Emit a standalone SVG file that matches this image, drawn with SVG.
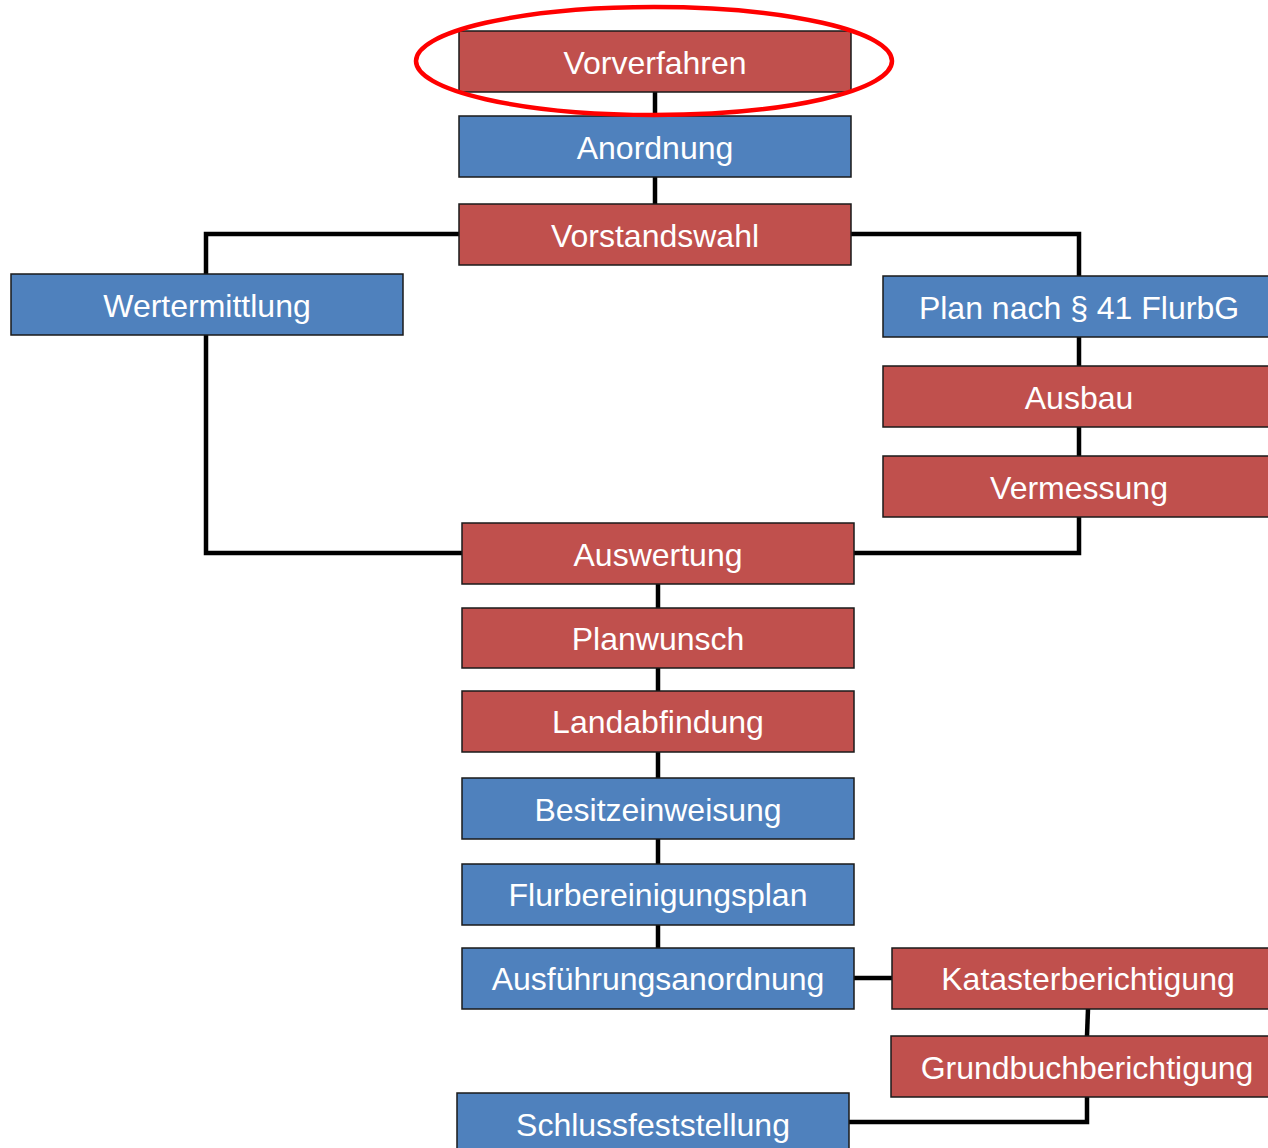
<svg xmlns="http://www.w3.org/2000/svg" width="1268" height="1148" viewBox="0 0 1268 1148">
<style>
.r{fill:#C0504D;stroke:#1a1a1a;stroke-width:1.5}
.b{fill:#4F81BD;stroke:#1a1a1a;stroke-width:1.5}
.t{fill:#fff;font-family:"Liberation Sans",Arial,sans-serif;font-size:32px;text-anchor:middle;dominant-baseline:central}
.c{fill:none;stroke:#000;stroke-width:4.5;stroke-linejoin:miter}
</style>
<rect width="1268" height="1148" fill="#fff"/>
<g id="connectors">
<line class="c" x1="655" y1="92" x2="655" y2="116"/>
<line class="c" x1="655" y1="177" x2="655" y2="204"/>
<polyline class="c" points="459,234 206,234 206,274"/>
<polyline class="c" points="851,234 1079,234 1079,276"/>
<polyline class="c" points="206,335 206,553 462,553"/>
<line class="c" x1="1079" y1="337" x2="1079" y2="366"/>
<line class="c" x1="1079" y1="427" x2="1079" y2="456"/>
<polyline class="c" points="1079,517 1079,553 854,553"/>
<line class="c" x1="658" y1="584" x2="658" y2="608"/>
<line class="c" x1="658" y1="668" x2="658" y2="691"/>
<line class="c" x1="658" y1="752" x2="658" y2="778"/>
<line class="c" x1="658" y1="839" x2="658" y2="864"/>
<line class="c" x1="658" y1="925" x2="658" y2="948"/>
<line class="c" x1="854" y1="978" x2="892" y2="978"/>
<line class="c" x1="1088" y1="1009" x2="1087" y2="1036"/>
<polyline class="c" points="1087,1097 1087,1122 849,1122"/>
</g>
<g id="n-vorverfahren"><rect class="r" x="459" y="31" width="392" height="61"/><text class="t" x="655" y="63">Vorverfahren</text></g>
<g id="n-anordnung"><rect class="b" x="459" y="116" width="392" height="61"/><text class="t" x="655" y="148">Anordnung</text></g>
<g id="n-vorstandswahl"><rect class="r" x="459" y="204" width="392" height="61"/><text class="t" x="655" y="236">Vorstandswahl</text></g>
<g id="n-wertermittlung"><rect class="b" x="11" y="274" width="392" height="61"/><text class="t" x="207" y="306">Wertermittlung</text></g>
<g id="n-plan41"><rect class="b" x="883" y="276" width="392" height="61"/><text class="t" x="1079" y="308">Plan nach § 41 FlurbG</text></g>
<g id="n-ausbau"><rect class="r" x="883" y="366" width="392" height="61"/><text class="t" x="1079" y="398">Ausbau</text></g>
<g id="n-vermessung"><rect class="r" x="883" y="456" width="392" height="61"/><text class="t" x="1079" y="488">Vermessung</text></g>
<g id="n-auswertung"><rect class="r" x="462" y="523" width="392" height="61"/><text class="t" x="658" y="555">Auswertung</text></g>
<g id="n-planwunsch"><rect class="r" x="462" y="608" width="392" height="60"/><text class="t" x="658" y="639">Planwunsch</text></g>
<g id="n-landabfindung"><rect class="r" x="462" y="691" width="392" height="61"/><text class="t" x="658" y="722">Landabfindung</text></g>
<g id="n-besitzeinweisung"><rect class="b" x="462" y="778" width="392" height="61"/><text class="t" x="658" y="810">Besitzeinweisung</text></g>
<g id="n-flurbereinigungsplan"><rect class="b" x="462" y="864" width="392" height="61"/><text class="t" x="658" y="895">Flurbereinigungsplan</text></g>
<g id="n-ausfuehrungsanordnung"><rect class="b" x="462" y="948" width="392" height="61"/><text class="t" x="658" y="979">Ausführungsanordnung</text></g>
<g id="n-katasterberichtigung"><rect class="r" x="892" y="948" width="392" height="61"/><text class="t" x="1088" y="979">Katasterberichtigung</text></g>
<g id="n-grundbuchberichtigung"><rect class="r" x="891" y="1036" width="392" height="61"/><text class="t" x="1087" y="1068">Grundbuchberichtigung</text></g>
<g id="n-schlussfeststellung"><rect class="b" x="457" y="1093" width="392" height="61"/><text class="t" x="653" y="1125">Schlussfeststellung</text></g>
<ellipse id="highlight" cx="654" cy="61" rx="238" ry="54" fill="none" stroke="#FF0000" stroke-width="4.5"/>
</svg>
